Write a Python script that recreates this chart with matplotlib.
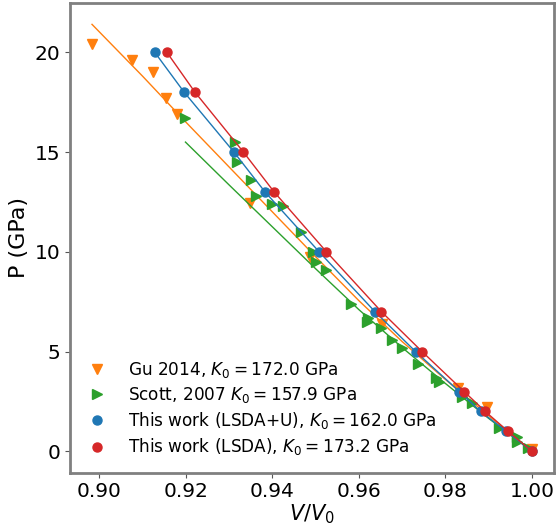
import matplotlib
matplotlib.use('Agg')
import matplotlib.pyplot as plt

# Gu 2014 (экспериментальные точки)
gu_v = [0.8984, 0.9076, 0.9125, 0.9155, 0.918, 0.9349, 0.9488, 0.9653, 0.9829, 0.9897, 1.0]
gu_p = [20.4, 19.6, 19.0, 17.7, 16.9, 12.45, 9.75, 6.4, 3.2, 2.2, 0.1]

# Gu 2014 fit
gu_fit_v = [0.8983, 0.91, 0.92, 0.93, 0.94, 0.95, 0.96, 0.97, 0.98, 0.99, 1.0]
gu_fit_p = [21.4, 18.8, 16.5, 14.25, 12.0, 9.75, 7.55, 5.5, 3.6, 1.78, 0.0]

# Scott 2007
scott_v = [0.9197, 0.9313, 0.9319, 0.935, 0.9363, 0.9399, 0.9424, 0.9466, 0.9494, 0.95,
           0.9524, 0.9581, 0.9621, 0.9619, 0.965, 0.9677, 0.9699, 0.9737, 0.9779, 0.9784,
           0.9838, 0.9861, 0.9924, 0.9965, 0.9966, 0.9991]
scott_p = [16.7, 15.5, 14.5, 13.6, 12.8, 12.4, 12.3, 11.0, 10.0, 9.5,
           9.1, 7.4, 6.7, 6.5, 6.2, 5.6, 5.2, 4.4, 3.7, 3.5,
           2.7, 2.4, 1.15, 0.7, 0.45, 0.15]

scott_fit_v = [0.9199, 0.93, 0.94, 0.95, 0.96, 0.97, 0.98, 0.99, 1.0]
scott_fit_p = [15.5, 13.35, 11.25, 9.15, 7.1, 5.2, 3.4, 1.65, 0.0]

# This work
p_calc = [20, 18, 15, 13, 10, 7, 5, 3, 2, 1, 0]
v_ldau = [0.9128, 0.9196, 0.9311, 0.9383, 0.9508, 0.9637, 0.9731, 0.9832, 0.9881, 0.9941, 1.0]
v_lda = [0.9156, 0.9221, 0.9333, 0.9404, 0.9525, 0.9652, 0.9746, 0.9843, 0.9892, 0.9945, 1.0]

labels = ['Gu 2014, $K_0 = 172.0$ GPa',
          'Scott, 2007 $K_0 = 157.9$ GPa',
          'This work (LSDA+U), $K_0 = 162.0$ GPa',
          'This work (LSDA), $K_0 = 173.2$ GPa']

fig = plt.figure(figsize=(5.57, 5.29), dpi=100)
ax = fig.add_axes([0.1257, 0.1064, 0.8689, 0.8879])

ax.plot(gu_fit_v, gu_fit_p, color='tab:orange', lw=1)
ax.plot(gu_v, gu_p, 'v', color='tab:orange', ms=7, label=labels[0])
ax.plot(scott_fit_v, scott_fit_p, color='tab:green', lw=1)
ax.plot(scott_v, scott_p, '>', color='tab:green', ms=7, label=labels[1])
ax.plot(v_ldau, p_calc, color='tab:blue', lw=1)
ax.plot(v_ldau, p_calc, 'o', color='tab:blue', ms=6.5, label=labels[2])
ax.plot(v_lda, p_calc, color='tab:red', lw=1)
ax.plot(v_lda, p_calc, 'o', color='tab:red', ms=6.5, label=labels[3])

ax.set_xticks([0.90, 0.92, 0.94, 0.96, 0.98, 1.00])
ax.set_yticks([0, 5, 10, 15, 20])
ax.tick_params(labelsize=14.5, color='#555555')
for s in ax.spines.values():
    s.set_color('#808080')
    s.set_linewidth(2)

ax.set_xlabel('$V/V_0$', fontsize=15, labelpad=1)
ax.set_ylabel('P (GPa)', fontsize=16)

ax.legend(loc='lower left', frameon=False, fontsize=12.2, handletextpad=0.8,
          labelspacing=0.3, bbox_to_anchor=(-0.01, 0.0))

plt.savefig('out.png', dpi=100)
